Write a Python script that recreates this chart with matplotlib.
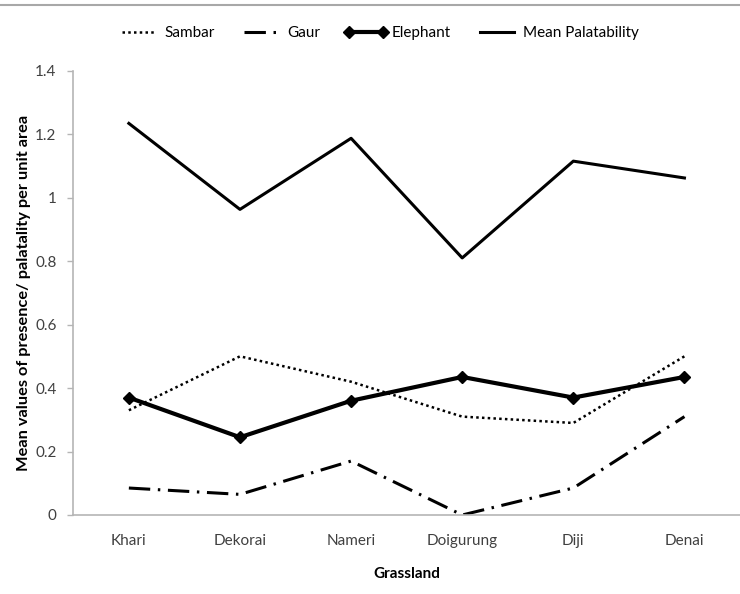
import matplotlib
matplotlib.use("Agg")
import matplotlib.pyplot as plt
from matplotlib.lines import Line2D
import numpy as np

# ── Data ──────────────────────────────────────────────────────────────────────
grasslands = ["Khari", "Dekorai", "Nameri", "Doigurung", "Diji", "Denai"]
sambar     = [0.33, 0.50, 0.42, 0.31, 0.29, 0.50]
gaur       = [0.085, 0.065, 0.17, 0.0, 0.085, 0.31]
elephant   = [0.37, 0.245, 0.36, 0.435, 0.37, 0.435]
mean_pal   = [1.234, 0.963, 1.187, 0.81, 1.115, 1.062]
yticks     = [0, 0.2, 0.4, 0.6, 0.8, 1, 1.2, 1.4]
ytick_lbls = ["0", "0.2", "0.4", "0.6", "0.8", "1", "1.2", "1.4"]

plt.rcParams["font.family"] = ["Lato", "DejaVu Sans"]

fig = plt.figure(figsize=(7.4, 5.94), dpi=100)
ax = fig.add_axes([73.3 / 740, 1 - 515 / 594, 1 - 73.3 / 740, (515 - 70.7) / 594])

x = np.arange(len(grasslands))

ax.plot(x, sambar, color="black", lw=1.8, linestyle=(0, (1, 1.3)),
        label="Sambar")
ax.plot(x, gaur, color="black", lw=2.2, linestyle=(0, (7, 2.5, 0.8, 2.5)),
        label="Gaur")
ax.plot(x, elephant, color="black", lw=3, marker="D", markersize=6.5,
        label="Elephant")
ax.plot(x, mean_pal, color="black", lw=2.2, label="Mean Palatability")

ax.set_xlim(-0.5, len(grasslands) - 0.5)
ax.set_ylim(0, 1.4)
ax.set_xticks(x)
ax.set_xticklabels(grasslands)
ax.set_yticks(yticks)
ax.set_yticklabels(ytick_lbls)

for side in ["top", "right"]:
    ax.spines[side].set_visible(False)
for side in ["left", "bottom"]:
    ax.spines[side].set_color("#b5b5b5")
    ax.spines[side].set_linewidth(1.2)

ax.tick_params(axis="x", length=0, pad=14, labelsize=11, labelcolor="#404040")
ax.tick_params(axis="y", direction="out", length=4, width=1, color="#b5b5b5",
               pad=8, labelsize=11, labelcolor="#404040")

ax.set_xlabel("Grassland", fontweight="bold", fontsize=11, labelpad=13)
ax.set_ylabel("Mean values of presence/ palatality per unit area",
              fontweight="bold", fontsize=11.8, labelpad=3)

ax.legend(loc="center", bbox_to_anchor=(378 / 740, 1 - 33 / 594),
          bbox_transform=fig.transFigure, ncol=4, frameon=False,
          fontsize=11, handlelength=2.8, handletextpad=0.3,
          columnspacing=1.6, numpoints=2)

# thin grey border line across the top of the chart area
fig.add_artist(Line2D([0, 1], [1 - 5 / 594, 1 - 5 / 594],
                      transform=fig.transFigure, color="#a8a8a8", lw=1.5))

fig.savefig("out.png", dpi=100)
